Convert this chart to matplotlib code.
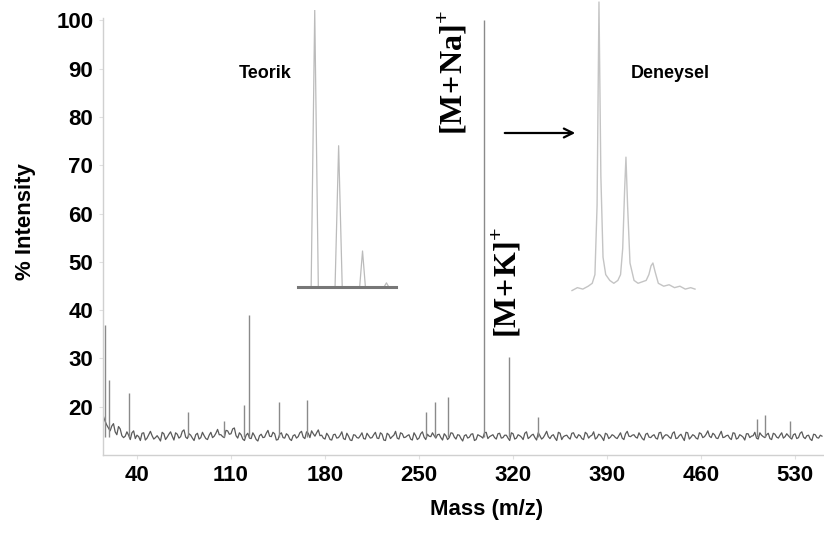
import matplotlib

matplotlib.use("Agg")

import matplotlib.pyplot as plt
import numpy as np

# baseline noise, sampled every 2.5 m/z from 15 to 550
noise_start, noise_step = 15.0, 2.5
noise_int = [
    18.0, 16.2, 15.0, 16.5, 14.2, 15.4, 13.6, 14.8, 13.2, 15.0, 14.1, 13.0, 14.6, 13.5, 14.9, 13.3, 14.0, 12.9, 14.4, 13.7,
    14.8, 13.1, 14.3, 13.8, 15.2, 13.4, 14.1, 13.0, 14.5, 13.6, 14.0, 13.2, 14.7, 13.9, 15.3, 14.2, 13.6, 15.0, 14.4, 15.6,
    13.5, 14.2, 13.0, 14.5, 13.4, 14.0, 12.9, 14.3, 13.7, 15.1, 13.8, 14.4, 13.2, 14.6, 13.5, 14.1, 13.0, 14.2, 13.8, 14.9,
    13.4, 14.5, 15.0, 13.9, 15.2, 14.1, 13.3, 14.0, 13.1, 14.3, 13.6, 14.8, 13.2, 13.9, 13.0, 14.1, 13.5, 14.6, 13.3, 14.0,
    13.6, 14.7, 13.4, 14.3, 13.0, 14.2, 13.8, 14.9, 13.3, 14.4, 13.7, 14.2, 13.1, 14.0, 13.5, 14.8, 13.2, 13.9, 14.6, 13.5,
    14.3, 13.1, 14.0, 13.6, 14.5, 13.3, 14.1, 12.9, 14.2, 13.7, 14.4, 13.2, 14.0, 13.5, 14.7, 13.8, 14.2, 13.3, 14.5, 13.6,
    14.1, 13.0, 14.4, 13.5, 14.0, 13.2, 14.8, 13.7, 14.3, 13.1, 14.0, 13.6, 14.9, 13.4, 14.2, 13.0, 14.5, 13.8, 14.1, 13.3,
    14.6, 13.5, 14.0, 13.2, 14.4, 13.9, 14.8, 13.6, 14.1, 13.0, 14.3, 13.7, 14.0, 13.4, 14.6, 13.2, 14.9, 13.8, 14.2, 13.5,
    14.0, 13.1, 14.5, 13.6, 14.2, 13.3, 14.7, 13.9, 14.1, 13.4, 14.8, 13.5, 14.3, 13.0, 14.6, 13.7, 14.0, 13.3, 14.4, 13.8,
    15.0, 13.6, 14.2, 13.4, 14.9, 13.7, 14.1, 13.2, 14.5, 13.5, 14.0, 13.1, 14.4, 13.9, 14.7, 13.3, 14.1, 13.6, 14.5, 13.2,
    14.3, 13.5, 14.6, 13.8, 14.0, 13.3, 14.4, 13.6, 14.8, 13.4, 14.1, 13.0, 14.2, 13.5, 13.9,
]
# second set of noise readings, midway between the first ones (16.25 ... 548.75)
noise_mid_int = [
    17.0, 15.6, 16.0, 14.8, 15.9, 14.0, 13.9, 14.1, 14.6, 13.4, 13.8, 14.5, 13.1, 14.2, 14.0, 13.6, 13.5, 14.7, 13.2, 14.3,
    13.9, 14.6, 13.5, 14.9, 13.7, 14.4, 13.5, 14.2, 13.3, 14.7, 13.4, 14.1, 13.6, 14.5, 14.2, 13.8, 15.1, 14.3, 15.4, 14.0,
    14.6, 13.3, 14.1, 13.5, 14.6, 13.2, 14.0, 13.6, 14.5, 13.9, 14.7, 13.1, 14.3, 13.6, 14.4, 13.3, 14.0, 13.5, 14.6, 13.7,
    14.8, 13.6, 14.4, 14.6, 14.0, 13.5, 14.5, 13.2, 14.2, 13.5, 14.1, 13.4, 14.5, 13.1, 14.2, 13.6, 14.0, 13.4, 14.5, 13.5,
    14.2, 13.5, 14.6, 13.1, 14.5, 13.4, 14.1, 13.5, 14.6, 13.6, 14.0, 13.3, 14.6, 13.2, 14.4, 13.7, 14.3, 13.8, 14.0, 14.2,
    13.6, 14.4, 13.2, 14.6, 13.7, 14.2, 13.4, 14.0, 13.5, 14.3, 13.0, 14.2, 13.8, 14.6, 13.4, 14.0, 13.6, 14.4, 13.5, 14.1,
    13.5, 14.6, 13.3, 14.2, 13.7, 14.5, 13.4, 14.1, 13.6, 14.6, 13.3, 14.2, 13.8, 14.0, 13.5, 14.7, 13.2, 14.0, 13.6, 14.5,
    13.8, 14.2, 13.4, 14.7, 13.5, 14.1, 13.3, 14.3, 13.6, 14.5, 13.4, 14.2, 13.6, 14.0, 13.5, 14.4, 13.9, 14.1, 13.7, 14.6,
    13.4, 14.3, 13.7, 14.0, 13.5, 14.6, 13.3, 14.2, 13.7, 14.5, 13.4, 14.0, 13.6, 14.7, 13.3, 14.2, 13.5, 14.6, 13.6, 14.3,
    13.9, 14.5, 13.5, 14.2, 13.6, 14.0, 13.5, 14.6, 13.3, 14.2, 13.7, 14.4, 13.6, 14.0, 13.5, 14.6, 13.8, 14.2, 13.4, 14.5,
    13.7, 14.1, 13.5, 14.4, 13.6, 14.2, 13.4, 14.5, 13.7, 14.0, 13.3, 14.3, 13.6, 14.1,
]
noise_mz = noise_start + noise_step * np.arange(len(noise_int))
noise_mid_mz = noise_start + noise_step / 2 + noise_step * np.arange(len(noise_mid_int))

# spikes above the baseline
peak_mz = [16.0, 19.0, 34.0, 78.0, 105.0, 120.0, 123.4, 146.0, 166.6, 255.0, 262.0, 271.6,
           298.4, 317.0, 338.6, 501.6, 507.6, 526.0]
peak_int = [37.0, 25.5, 22.8, 19.0, 17.0, 20.3, 39.0, 21.0, 21.4, 19.0, 21.0, 22.0,
            100.0, 30.3, 17.9, 17.5, 18.3, 17.0]

# inset: theoretical isotope pattern
teorik_mz = [296.3, 296.85, 297.0, 297.15, 297.85, 298.0, 298.15, 298.88, 299.0, 299.12,
             299.9, 300.0, 300.1, 300.4]
teorik_int = [0, 0, 100, 0, 0, 51, 0, 0, 13, 0, 0, 1.5, 0, 0]

# inset: experimental isotope pattern
deneysel_mz = [296.0, 296.2, 296.4, 296.6, 296.75, 296.85, 296.93, 297.0, 297.07, 297.15, 297.25,
               297.4, 297.55, 297.7, 297.8, 297.88, 297.95, 298.0, 298.06, 298.15, 298.3, 298.45,
               298.6, 298.75, 298.85, 298.93, 299.0, 299.08, 299.2, 299.4, 299.6, 299.8, 300.0,
               300.2, 300.4, 300.56]
deneysel_int = [0.5, 1.5, 1.0, 2.0, 3.0, 6.0, 30, 100, 40, 12, 6, 4, 3, 4, 6, 15, 35, 46.5, 30, 10,
                4, 3, 3.5, 4, 6, 9, 10, 7, 3, 2, 2.5, 1.5, 2, 1, 1.5, 1]

x_ticks = [40, 110, 180, 250, 320, 390, 460, 530]
y_ticks = [20, 30, 40, 50, 60, 70, 80, 90, 100]

W, H = 824, 534
fig = plt.figure(figsize=(W / 100, H / 100), dpi=100)
ax = fig.add_axes([103 / W, 1 - 455 / H, 721 / W, 437 / H])

all_mz = np.concatenate([noise_mz, noise_mid_mz])
all_int = np.concatenate([noise_int, noise_mid_int])
order = np.argsort(all_mz)
ax.plot(all_mz[order], all_int[order], color="#5a5a5a", lw=0.9)
ax.vlines(peak_mz, 13.8, peak_int, color="#8a8a8a", lw=1.0)

ax.set_xlim(14.7, 551.5)
ax.set_ylim(10, 100.5)
ax.set_xticks(x_ticks)
ax.set_yticks(y_ticks)
for s in ["top", "right"]:
    ax.spines[s].set_visible(False)
for s in ["left", "bottom"]:
    ax.spines[s].set_color("#d0d0d0")
    ax.spines[s].set_linewidth(1.0)
ax.tick_params(length=3, color="#e0e0e0", labelsize=16, pad=4)
for lab in ax.get_xticklabels() + ax.get_yticklabels():
    lab.set_fontfamily("Liberation Sans")
    lab.set_fontweight("bold")

fig.text(25 / W, 1 - 222 / H, "% Intensity", rotation=90, ha="center", va="center",
         fontsize=16, fontweight="bold", family="Liberation Sans")
fig.text(487 / W, 1 - 510 / H, "Mass (m/z)", ha="center", va="center",
         fontsize=16, fontweight="bold", family="Liberation Sans")

# theoretical inset
ax_t = fig.add_axes([298 / W, 1 - 287 / H, 98 / W, 277 / H])
ax_t.plot(teorik_mz, teorik_int, color="#bbbbbb", lw=0.9)
ax_t.plot([teorik_mz[0], teorik_mz[-1]], [0, 0], color="#777777", lw=2.2, clip_on=False)
ax_t.set_xlim(teorik_mz[0], teorik_mz[-1])
ax_t.set_ylim(0, 100)
ax_t.axis("off")

# experimental inset
ax_d = fig.add_axes([572 / W, 1 - 292 / H, 123 / W, 290 / H])
ax_d.plot(deneysel_mz, deneysel_int, color="#c4c4c4", lw=1.0, clip_on=False)
ax_d.set_xlim(deneysel_mz[0], deneysel_mz[-1])
ax_d.set_ylim(0, 100)
ax_d.axis("off")

fig.text(265 / W, 1 - 73 / H, "Teorik", ha="center", va="center",
         fontsize=13, fontweight="bold", family="Liberation Sans")
fig.text(670 / W, 1 - 73 / H, "Deneysel", ha="center", va="center",
         fontsize=13, fontweight="bold", family="Liberation Sans")

plt.rcParams["mathtext.fontset"] = "custom"
plt.rcParams["mathtext.rm"] = "Liberation Serif"
plt.rcParams["mathtext.bf"] = "Liberation Serif:bold"
fig.text(453 / W, 1 - 10 / H, r"$\mathbf{[M\!+\!Na]}^{\mathbf{+}}$", rotation=90,
         ha="center", va="top", fontsize=23)
fig.text(507 / W, 1 - 227 / H, r"$\mathbf{[M\!+\!K]}^{\mathbf{+}}$", rotation=90,
         ha="center", va="top", fontsize=23)

fig.add_artist(matplotlib.patches.FancyArrowPatch(
    (502 / W, 1 - 133 / H), (578 / W, 1 - 133 / H), transform=fig.transFigure,
    arrowstyle="->", mutation_scale=16, color="black", lw=1.6))

fig.savefig("out.png", dpi=100, facecolor="white")
